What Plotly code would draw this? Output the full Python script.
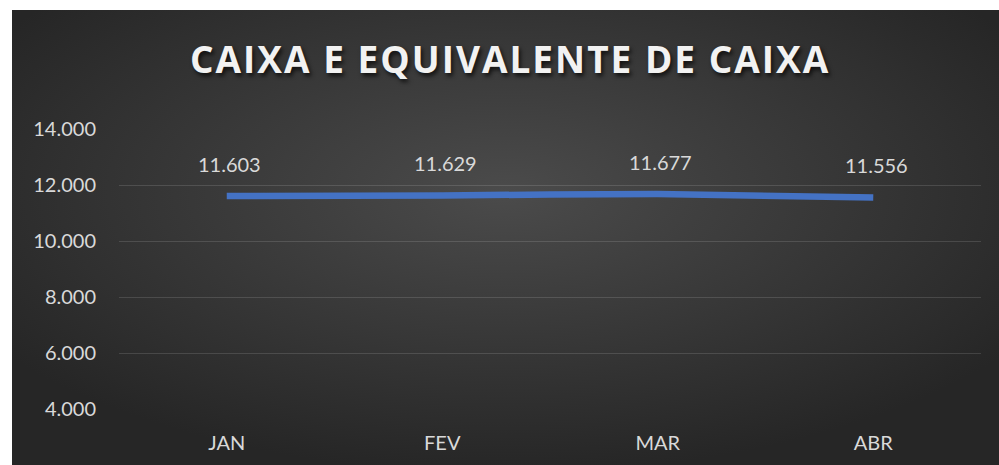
import plotly.graph_objects as go
import urllib.parse

months = ["JAN", "FEV", "MAR", "ABR"]
values = [11603, 11629, 11677, 11556]
y_ticks = [4000, 6000, 8000, 10000, 12000, 14000]
title_text = "CAIXA E EQUIVALENTE DE CAIXA"

W, H = 999, 465
ML, MR, MT, MB = 119, 18, 129, 56
pw, ph = W - ML - MR, H - MT - MB
LABEL_FONT = "Lato, 'Open Sans', sans-serif"

svg = ('<svg xmlns="http://www.w3.org/2000/svg" width="987" height="455" preserveAspectRatio="none">'
       '<defs><radialGradient id="g" cx="50%" cy="40%" r="62%">'
       '<stop offset="0" stop-color="#4b4b4b"/><stop offset="1" stop-color="#262626"/>'
       '</radialGradient></defs><rect width="987" height="455" fill="url(#g)"/></svg>')
src = "data:image/svg+xml;charset=utf-8," + urllib.parse.quote(svg)

fig = go.Figure()
fig.add_trace(go.Scatter(
    x=months, y=values, mode="lines",
    line=dict(color="#4472C4", width=6.5, shape="spline", smoothing=0.6),
    hoverinfo="skip", showlegend=False,
))

annotations = [dict(text="<b>" + title_text + "</b>", xref="paper", yref="paper",
                    x=(510.5 - ML) / pw, y=(H - MB - 58) / ph,
                    xanchor="center", yanchor="middle", showarrow=False,
                    font=dict(family="'Open Sans', sans-serif", size=37, color="#f2f2f2",
                              shadow="2px 3px 4px rgba(0,0,0,0.7)"))]
for m, v in zip(months, values):
    annotations.append(dict(x=m, y=v, xref="x", yref="y", text=f"{v:,}".replace(",", "."),
                            showarrow=False, yshift=32, xshift=3, xanchor="center", yanchor="middle",
                            font=dict(family=LABEL_FONT, size=20, color="#d9d9d9")))

x0 = (12 - ML) / pw
x1 = (W - ML) / pw
y1 = (H - MB - 10) / ph
y0 = (H - MB - H) / ph

fig.update_layout(
    width=W, height=H,
    margin=dict(l=ML, r=MR, t=MT, b=MB),
    paper_bgcolor="white", plot_bgcolor="rgba(0,0,0,0)",
    separators=",.",
    images=[dict(source=src, xref="paper", yref="paper", x=x0, y=y1,
                 sizex=x1 - x0, sizey=y1 - y0, sizing="stretch",
                 xanchor="left", yanchor="top", layer="below")],
    annotations=annotations,
    xaxis=dict(range=[-0.5, 3.5], showgrid=False, zeroline=False, showline=False,
               ticks="", ticklabelstandoff=20,
               tickfont=dict(family=LABEL_FONT, size=20, color="#d9d9d9")),
    yaxis=dict(range=[4000, 14000], tickvals=y_ticks, tickformat=",d",
               showgrid=True, gridcolor="rgba(255,255,255,0.13)", gridwidth=1,
               zeroline=False, showline=False, ticks="", ticklabelstandoff=22,
               tickfont=dict(family=LABEL_FONT, size=20, color="#d9d9d9")),
)

post = """
document.body.style.margin='0';
var t=document.querySelector('.annotation .annotation-text');
if(t){t.style.letterSpacing='2px';}
"""
fig.write_html("out.html", post_script=post, config={"displayModeBar": False})
